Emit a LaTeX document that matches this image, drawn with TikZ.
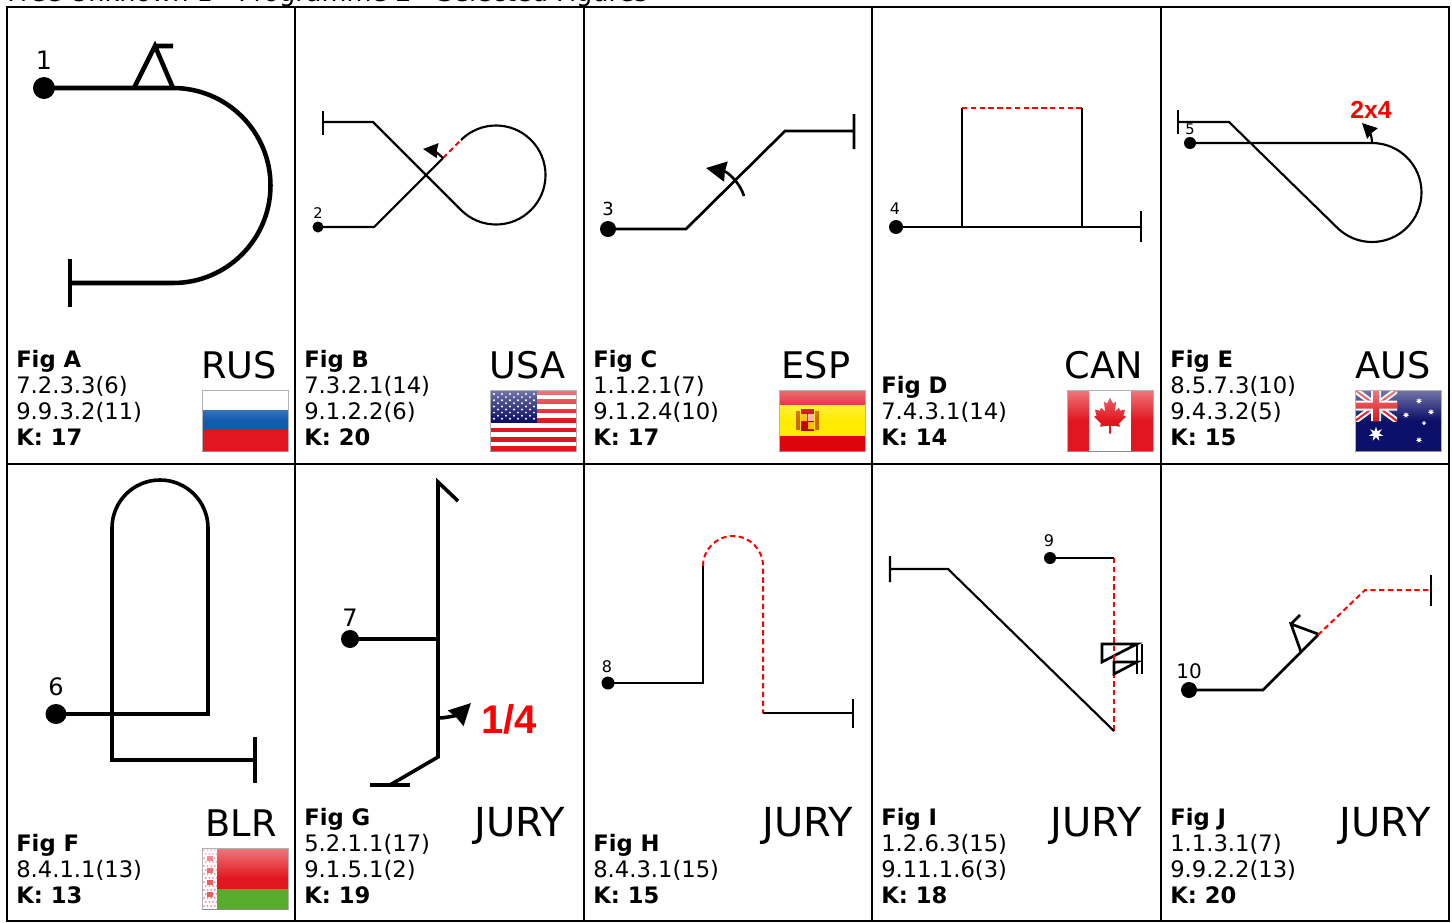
\documentclass[tikz,border=0pt]{standalone}
\usepackage{fontspec}
\setmainfont{DejaVu Sans}
\newfontfamily\arialf{Liberation Sans}
\usetikzlibrary{arrows.meta}
\definecolor{flagred}{RGB}{226,22,30}
\definecolor{flagblue}{RGB}{18,92,176}
\definecolor{navy}{RGB}{12,16,104}
\definecolor{esyellow}{RGB}{255,236,0}
\definecolor{esred}{RGB}{222,4,12}
\definecolor{bygreen}{RGB}{88,172,44}
\tikzset{
 grid/.style={line width=1.5pt,black},
 figure/.style={black,line join=miter},
 tA/.style={figure,line width=3.4pt},
 tB/.style={figure,line width=1.6pt},
 tC/.style={figure,line width=2pt},
 tD/.style={figure,line width=1.6pt},
 tF/.style={figure,line width=2.7pt},
 redd/.style={red,line width=1.5pt,dash pattern=on 4pt off 2.6pt},
 info/.style={anchor=base west,inner sep=0pt,font=\fontsize{17}{19}\selectfont},
 country/.style={anchor=base,inner sep=0pt,font=\fontsize{27.5}{30}\selectfont},
 jury/.style={anchor=base,inner sep=0pt,font=\fontsize{30}{33}\selectfont},
 num/.style={anchor=center,inner sep=0pt,text=black},
 tip/.style={-{Stealth[length=#1,width=#1,inset=.6pt]}},
}
\newcommand{\infoblock}[7]{%
 \node[info] (#1t) at (#2,#3-78) {\textbf{#4}};
 \node[info] (#1a) at (#2,#3-52) {#5};
 \node[info] (#1b) at (#2,#3-26) {#6};
 \node[info] (#1k) at (#2,#3) {\textbf{#7}};}
\newcommand{\infoshort}[6]{%
 \node[info] (#1t) at (#2,#3-52) {\textbf{#4}};
 \node[info] (#1a) at (#2,#3-26) {#5};
 \node[info] (#1k) at (#2,#3) {\textbf{#6}};}
\newcommand{\astar}[3]{\fill[white] plot[variable=\t,samples at={0,...,13}]
  ({#1+(mod(\t,2)==0?#3:#3*0.42)*cos(-90+360/14*\t)},{#2+(mod(\t,2)==0?#3:#3*0.42)*sin(-90+360/14*\t)}) -- cycle;}
\newcommand{\flagend}{%
 \foreach \i in {0,...,14}{\pgfmathsetmacro{\op}{0.42*(1-\i/15)}
   \fill[white,opacity=\op] (0,\i*2) rectangle (86,\i*2+2);}
 \end{scope}
 \draw[black!30,line width=.7pt] (0,0) rectangle (86,61);
 \draw[black!45,line width=.8pt] (0,61.5) -- (86,61.5);
 \end{scope}}
\newcommand{\flagstart}[2]{\begin{scope}[shift={(#1,#2)}]\begin{scope}\clip (0,0) rectangle (86,61);}
\begin{document}
\begin{tikzpicture}[x=.75pt,y=.75pt,yscale=-1]
\useasboundingbox (0,0) rectangle (1452,922);
\clip (0,0) rectangle (1452,922);
\fill[white] (0,0) rectangle (1452,922);
\node[anchor=base west,inner sep=0pt,font=\fontsize{19.2}{21}\selectfont] (title) at (7,1) {Free Unknown 1 - Programme 2 - Selected Figures};
% grid
\draw[grid] (7,7) rectangle (1449,921) (7,464) -- (1449,464);
\foreach \x in {295,584,872,1161} \draw[grid] (\x,7) -- (\x,921);
% Fig A
\fill (44,88) circle (11);
\draw[tA] (44,88) -- (173,88) arc[start angle=-90,end angle=90,radius=97.5] -- (70,283);
\draw[tA] (70,259) -- (70,307);
\draw[tA] (134,88) -- (155,46) -- (173,88) (155,46) -- (173,46);
\node[num,font=\fontsize{19}{21}\selectfont] (n1) at (44,60) {1};
% Fig B
\fill (318,227) circle (5.5);
\draw[tB] (318,227) -- (374,227) -- (443,158);
\draw[redd] (443,158) -- (461,140);
\draw[tB] (461,140) arc[start angle=-135,end angle=135,radius=49.5] -- (373,122) -- (323,122);
\draw[tB] (323,111) -- (323,135);
\draw[tB,tip=11pt] (443,158) .. controls (438,153) and (432,150) .. (423,149);
\node[num,font=\fontsize{11}{12}\selectfont] (n2) at (318,213) {2};
% Fig C
\fill (608,229) circle (8);
\draw[tC] (608,229) -- (686,229) -- (785,131) -- (854,131) (854,114) -- (854,149);
\draw[tC,tip=15pt] (744,196) .. controls (740,183) and (728,172) .. (706,168);
\node[num,font=\fontsize{13.5}{15}\selectfont] (n3) at (608,209) {3};
% Fig D
\fill (896,227) circle (7);
\draw[tD] (896,227) -- (1141,227) (1141,211) -- (1141,242);
\draw[tD] (962,227) -- (962,108);
\draw[redd] (962,108) -- (1082,108);
\draw[tD] (1082,108) -- (1082,227);
\node[num,font=\fontsize{12}{14}\selectfont] (n4) at (895,209) {4};
% Fig E
\fill (1190,143) circle (6);
\draw[tB] (1190,143) -- (1372,143) arc[start angle=-90,end angle=135,radius=49.5] -- (1229,122) -- (1178,122);
\draw[tB] (1178,110) -- (1178,134);
\draw[tB,tip=11pt] (1372,143) .. controls (1372,135) and (1368,129) .. (1362,123);
\node[num,font=\fontsize{11}{12}\selectfont] (n5) at (1190,129) {5};
\node[inner sep=0pt,text=red,font=\arialf\bfseries\fontsize{18.5}{20}\selectfont] (e2x4) at (1371,110) {2x4};
% Fig F
\fill (56,714) ellipse (10.5 and 10);
\draw[tF] (56,714) -- (208,714) -- (208,528) arc[start angle=0,end angle=-180,radius=48] -- (112,760) -- (255,760);
\draw[tF] (255,737) -- (255,783);
\node[num,font=\fontsize{18}{20}\selectfont] (n6) at (56,687) {6};
% Fig G
\fill (350,639) circle (9);
\draw[tF] (350,639) -- (438,639);
\draw[tF] (458,501) -- (438,482) -- (438,757) -- (390,785);
\draw[tF] (370,785) -- (410,785);
\draw[tF,tip=16pt] (438,718) .. controls (450,718) and (461,713) .. (471,703);
\node[inner sep=0pt,text=red,font=\arialf\bfseries\fontsize{30}{32}\selectfont] (g14) at (509,719) {1/4};
\node[num,font=\fontsize{18}{20}\selectfont] (n7) at (350,618) {7};
% Fig H
\fill (608,683) circle (6.5);
\draw[tB] (608,683) -- (703,683) -- (703,566);
\draw[redd] (703,566) arc[start angle=-180,end angle=0,radius=30] -- (763,713);
\draw[tB] (763,713) -- (853,713) (853,699) -- (853,728);
\node[num,font=\fontsize{12}{14}\selectfont] (n8) at (607,667) {8};
% Fig I
\fill (1050,558) circle (6);
\draw[tB] (1050,558) -- (1114,558);
\draw[redd] (1114,558) -- (1114,731);
\draw[tB] (1114,731) -- (948,569) -- (890,569) (890,556) -- (890,582);
\draw[tC] (1102,662) -- (1102,644) -- (1137,644) -- cycle;
\draw[tC] (1114,674) -- (1114,662) -- (1137,662) -- cycle;
\draw[tC] (1137,644) -- (1137,674) (1142,644) -- (1142,674);
\draw[red,line width=2.2pt] (1114,655) -- (1114,661);
\node[num,font=\fontsize{12}{14}\selectfont] (n9) at (1049,541) {9};
% Fig J
\fill (1189,690) circle (8);
\draw[tC] (1189,690) -- (1263,690) -- (1318,635);
\draw[redd] (1318,635) -- (1365,590) -- (1431,590);
\draw[tC] (1431,575) -- (1431,606);
\draw[tC] (1301,652) -- (1291,624) -- (1318,634) (1291,624) -- (1300,615);
\node[num,font=\fontsize{15}{17}\selectfont] (n10) at (1189,671) {10};
% info blocks
\infoblock{a}{16}{445.5}{Fig A}{7.2.3.3(6)}{9.9.3.2(11)}{K: 17}
\infoblock{b}{304}{445.5}{Fig B}{7.3.2.1(14)}{9.1.2.2(6)}{K: 20}
\infoblock{c}{593}{445.5}{Fig C}{1.1.2.1(7)}{9.1.2.4(10)}{K: 17}
\infoshort{d}{881}{445.5}{Fig D}{7.4.3.1(14)}{K: 14}
\infoblock{e}{1170}{445.5}{Fig E}{8.5.7.3(10)}{9.4.3.2(5)}{K: 15}
\infoshort{f}{16}{903.5}{Fig F}{8.4.1.1(13)}{K: 13}
\infoblock{g}{304}{903.5}{Fig G}{5.2.1.1(17)}{9.1.5.1(2)}{K: 19}
\infoshort{h}{593}{903.5}{Fig H}{8.4.3.1(15)}{K: 15}
\infoblock{i}{881}{903.5}{Fig I}{1.2.6.3(15)}{9.11.1.6(3)}{K: 18}
\infoblock{j}{1170}{903.5}{Fig J}{1.1.3.1(7)}{9.9.2.2(13)}{K: 20}
% countries
\node[country] (rus) at (239,378) {RUS};
\node[country] (usa) at (527.5,378) {USA};
\node[country] (esp) at (816,378) {ESP};
\node[country] (can) at (1103.5,378) {CAN};
\node[country] (aus) at (1393,378) {AUS};
\node[country] (blr) at (241,836) {BLR};
\node[jury] (jg) at (520,836) {JURY};
\node[jury] (jh) at (808,836) {JURY};
\node[jury] (ji) at (1096,836) {JURY};
\node[jury] (jj) at (1385,836) {JURY};
% flags
\flagstart{202}{390}
 \fill[white] (0,0) rectangle (86,20);
 \fill[flagblue] (0,20) rectangle (86,40);
 \fill[flagred] (0,40) rectangle (86,61);
\flagend
\flagstart{490}{390}
 \fill[white] (0,0) rectangle (86,61);
 \foreach \i in {0,2,...,12} \fill[flagred] (0,{\i*61/13}) rectangle (86,{(\i+1)*61/13});
 \fill[navy] (0,0) rectangle (47,33);
 \foreach \r in {0,...,4} \foreach \c in {0,...,5} \fill[white] ({4+\c*8},{4+\r*6.2}) circle (1.1);
 \foreach \r in {0,...,3} \foreach \c in {0,...,4} \fill[white] ({8+\c*8},{7.1+\r*6.2}) circle (1.1);
\flagend
\flagstart{779}{390}
 \fill[esred] (0,0) rectangle (86,15);
 \fill[esyellow] (0,15) rectangle (86,46);
 \fill[esred] (0,46) rectangle (86,61);
 \fill[orange!80!black] (17,21) rectangle (21,40) (36,21) rectangle (40,40);
 \fill[red!75!black] (22,19) rectangle (35,41);
 \fill[orange!50!yellow] (22,24) rectangle (28,31) (29,32) rectangle (35,39);
 \fill[red!30!white] (29,24) rectangle (35,31);
\flagend
\flagstart{1067}{390}
 \fill[white] (0,0) rectangle (86,61);
 \fill[flagred] (0,0) rectangle (22,61) (64,0) rectangle (86,61);
 \begin{scope}[yshift=-2.5pt]
 \fill[flagred] (43,11) -- (46,17) -- (49,15) -- (48,25) -- (52,21) -- (53,24) -- (58,23) -- (56.5,29) -- (59,30) -- (52,37) -- (53,40) -- (44,39) -- (44,47) -- (42,47) -- (42,39) -- (33,40) -- (34,37) -- (27,30) -- (29.5,29) -- (28,23) -- (33,24) -- (34,21) -- (38,25) -- (37,15) -- (40,17) -- cycle;
 \end{scope}
\flagend
\flagstart{1355}{390}
 \fill[navy] (0,0) rectangle (86,61);
 \begin{scope}
  \clip (0,0) rectangle (42,31);
  \draw[white,line width=4.5pt] (0,0) -- (42,31) (42,0) -- (0,31);
  \draw[flagred,line width=1.5pt] (0,0) -- (42,31) (42,0) -- (0,31);
  \fill[white] (16,0) rectangle (26,31) (0,10.5) rectangle (42,20.5);
  \fill[flagred] (18,0) rectangle (24,31) (0,12.5) rectangle (42,18.5);
 \end{scope}
 \astar{21}{44}{7.5}
 \astar{64}{11}{3.2}
 \astar{51}{25}{3.2}
 \astar{76}{22}{3.2}
 \astar{69}{33}{2.4}
 \astar{64}{50}{3.2}
\flagend
\flagstart{202}{848}
 \fill[flagred] (0,0) rectangle (86,41);
 \fill[bygreen] (0,41) rectangle (86,61);
 \fill[white] (0,0) rectangle (15,61);
 \foreach \r in {0,...,14} \foreach \c in {0,...,3} \fill[flagred!45] ({2+\c*3.6+mod(\r,2)*1.8},{2+\r*4}) circle (1.1);
 \foreach \r in {2,5,8,11} \fill[flagred!70] (7.5,{2+\r*4}) +(-3,-2) rectangle +(3,3);
\flagend
\end{tikzpicture}
\end{document}
